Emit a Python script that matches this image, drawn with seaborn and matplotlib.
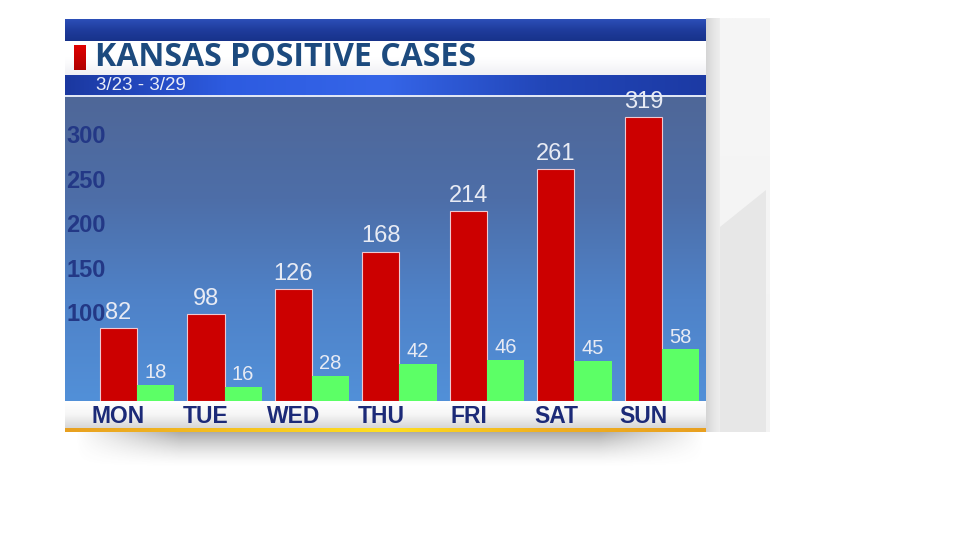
import numpy as np
import pandas as pd
import matplotlib
matplotlib.use("Agg")
import matplotlib.pyplot as plt
import matplotlib.colors as mcolors
from matplotlib.patches import Polygon
import seaborn as sns

# Data
days = ["MON", "TUE", "WED", "THU", "FRI", "SAT", "SUN"]
total_cases = [82, 98, 126, 168, 214, 261, 319]
new_cases = [18, 16, 28, 42, 46, 45, 58]
y_ticks = [100, 150, 200, 250, 300]

title = "KANSAS POSITIVE CASES"
subtitle = "3/23 - 3/29"

df = pd.DataFrame({
    "day": days * 2,
    "cases": total_cases + new_cases,
    "series": ["total"] * len(days) + ["new"] * len(days),
})

sns.set_theme(style="white")
plt.rcParams["font.family"] = ["Liberation Sans", "DejaVu Sans"]

fig = plt.figure(figsize=(9.6, 5.4), dpi=100)
fig.patch.set_facecolor("white")

# background layer in pixel coordinates
bg = fig.add_axes([0, 0, 1, 1], zorder=0)
bg.axis("off")


def _ramp(stops):
    cols = np.array([mcolors.to_rgb(c) for c in stops])
    t = np.linspace(0, 1, 256)
    pos = np.linspace(0, 1, len(cols))
    return np.stack([np.interp(t, pos, cols[:, k]) for k in range(3)], axis=-1)


def vgrad(x0, x1, y0, y1, stops, z=1):
    bg.imshow(_ramp(stops)[:, None, :], extent=[x0, x1, y1, y0],
              aspect="auto", zorder=z, interpolation="bilinear")


def hgrad(x0, x1, y0, y1, stops, z=1):
    bg.imshow(_ramp(stops)[None, :, :], extent=[x0, x1, y1, y0],
              aspect="auto", zorder=z, interpolation="bilinear")


# shadow under the panel
yy = np.linspace(0, 1, 60)[:, None]
xx = np.linspace(0, 1, 300)[None, :]
alpha = (1 - yy) ** 1.6 * np.clip(np.minimum(xx, 1 - xx) * 6, 0, 1) * 0.55
shadow = np.zeros((60, 300, 4))
shadow[..., :3] = 0.35
shadow[..., 3] = alpha
bg.imshow(shadow, extent=[75, 705, 468, 430], aspect="auto", zorder=1,
          interpolation="bilinear")

# grey side column
vgrad(706, 770, 18, 432, ["#f6f6f6", "#f3f3f3"], z=1)
bg.add_patch(Polygon([[710, 235], [766, 190], [766, 432], [710, 432]],
                     closed=True, facecolor="#e7e7e7", edgecolor="none",
                     zorder=1.1))
hgrad(706, 720, 18, 432, ["#d4d4d4", "#e4e4e4", "#eeeeee"], z=1.2)

# header bars
vgrad(65, 706, 19, 41, ["#2c4fb8", "#1f3c9c", "#17328a"], z=2)
vgrad(65, 706, 41, 75, ["#ffffff", "#ffffff", "#f0f0f4"], z=2)
hgrad(65, 706, 75, 95, ["#1b38a0", "#2d5be0", "#3565e8", "#2246b8", "#1c3aa4"], z=2)
vgrad(65, 706, 95, 97, ["#dfe6f5", "#dfe6f5"], z=2)
vgrad(74, 86, 45, 70, ["#e00000", "#b00000"], z=3)

# chart panel and bottom strip
vgrad(65, 706, 97, 401, ["#4f6798", "#4d6ea8", "#4f82c8", "#5290d8"], z=2)
vgrad(65, 706, 401, 428, ["#ffffff", "#f6f6f6", "#d6d6d6"], z=2)
hgrad(65, 706, 428, 432, ["#e8a020", "#f5c020", "#ffe020", "#f0b020", "#e8a020"], z=2)

bg.set_xlim(0, 960)
bg.set_ylim(540, 0)

bg.text(95, 58, title, fontsize=23, fontweight="bold", color="#1c4a7e",
        va="center", ha="left", zorder=4, family=["Open Sans", "DejaVu Sans"])
bg.text(96, 86, subtitle, fontsize=13.5, color="#e8ecf8", va="center",
        ha="left", zorder=4)

# main bar chart
ax = fig.add_axes([65 / 960, 1 - 401 / 540, 641 / 960, 305 / 540], zorder=2)
ax.patch.set_alpha(0)

sns.barplot(data=df, x="day", y="cases", hue="series",
            palette=["#cc0000", "#5cff66"], saturation=1, width=0.846,
            dodge=True, legend=False, ax=ax, edgecolor="#f0c8d0",
            linewidth=0.8)

for bar in ax.containers[1]:
    bar.set_edgecolor("none")

ax.bar_label(ax.containers[0], padding=3, fontsize=17, color="#e8ebf4")
ax.bar_label(ax.containers[1], padding=2, fontsize=14.5, color="#e8ebf4")

ax.set_xlim(-0.823, 6.503)
ax.set_ylim(0, 343)
ax.set_yticks(y_ticks)
ax.set_yticklabels([str(v) for v in y_ticks])
ax.tick_params(axis="y", direction="in", length=0, pad=-1,
               labelsize=17, labelcolor="#233886")
for lbl in ax.get_yticklabels():
    lbl.set_horizontalalignment("left")
    lbl.set_fontweight("bold")

# day labels sit under the red bars
ax.set_xticks(np.arange(len(days)) - 0.846 / 4)
ax.set_xticklabels(days)
ax.tick_params(axis="x", length=0, pad=3, labelsize=16.5,
               labelcolor="#1c2a78")
for lbl in ax.get_xticklabels():
    lbl.set_fontweight("bold")

ax.set_xlabel("")
ax.set_ylabel("")
for s in ax.spines.values():
    s.set_visible(False)
ax.grid(False)

fig.savefig("out.png", dpi=100)
